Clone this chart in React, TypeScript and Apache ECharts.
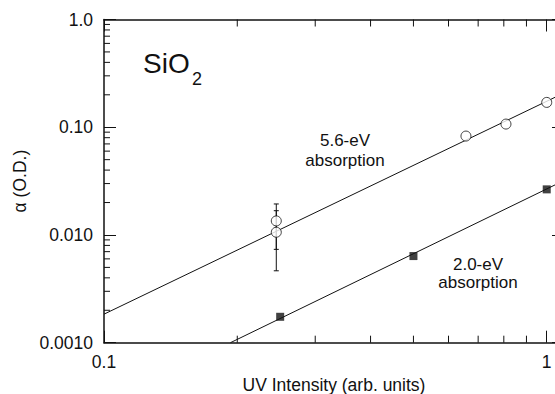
import React, { useEffect, useRef } from "react";
import * as echarts from "echarts";

// ---- data ----
const openX = [0.245, 0.245, 0.657, 0.809, 1.0];
const openY = [0.0135, 0.0106, 0.0828, 0.107, 0.17];
const errX = [0.245, 0.245];
const errLow = [0.00735, 0.00465];
const errHigh = [0.0194, 0.0168];
const filledX = [0.25, 0.5, 1.0];
const filledY = [0.00174, 0.00637, 0.0265];
const fit56X = [0.1, 1.094];
const fit56Y = [0.00184, 0.208];
const fit20X = [0.193, 1.094];
const fit20Y = [0.001, 0.032];
const xTickValues = [0.1, 1];
const xTickLabels = ["0.1", "1"];
const yTickValues = [0.001, 0.01, 0.1, 1];
const yTickLabels = ["0.0010", "0.010", "0.10", "1.0"];
const xMinorTicks = [0.2, 0.3, 0.4, 0.5, 0.6, 0.7, 0.8, 0.9];
const yMinorTicks = [
  0.002, 0.003, 0.004, 0.005, 0.006, 0.007, 0.008, 0.009,
  0.02, 0.03, 0.04, 0.05, 0.06, 0.07, 0.08, 0.09,
  0.2, 0.3, 0.4, 0.5, 0.6, 0.7, 0.8, 0.9,
];
const X_MIN = 0.1;
const X_MAX = 1.094;
const Y_MIN = 0.001;
const Y_MAX = 1;

const FONT = "'Liberation Sans', Arial, Helvetica, sans-serif";
const INK = "#111";

function labelFor(values: number[], labels: string[]) {
  return (v: number) => {
    for (let i = 0; i < values.length; i++) {
      if (Math.abs(Math.log10(v) - Math.log10(values[i])) < 1e-6) return labels[i];
    }
    return "";
  };
}

export default function App() {
  const ref = useRef<HTMLDivElement>(null);
  useEffect(() => {
    if (!ref.current) return;
    const chart = echarts.init(ref.current, undefined, { renderer: "svg" });
    const tickStyle = { color: INK, width: 1 };
    const option: any = {
      animation: false,
      backgroundColor: "#fff",
      grid: {
        left: 104,
        top: 19.5,
        right: -9,
        bottom: 51.3,
        containLabel: false,
        outerBoundsMode: "none",
      },
      xAxis: [
        {
          type: "log",
          logBase: 10,
          min: X_MIN,
          max: X_MAX,
          name: "UV Intensity (arb. units)",
          nameLocation: "middle",
          nameGap: 32,
          nameTextStyle: { fontFamily: FONT, fontSize: 17.5, color: INK },
          axisLine: { show: true, lineStyle: { color: INK, width: 1.5 } },
          axisTick: { show: true, inside: true, length: 12, lineStyle: tickStyle },
          axisLabel: {
            fontFamily: FONT,
            fontSize: 17.5,
            color: INK,
            margin: 10,
            showMaxLabel: false,
            formatter: labelFor(xTickValues, xTickLabels),
          },
          splitLine: { show: false },
        },
        {
          type: "log",
          logBase: 10,
          min: X_MIN,
          max: X_MAX,
          position: "top",
          axisLine: { show: true, lineStyle: { color: INK, width: 1.5 } },
          axisTick: { show: true, inside: true, length: 12, lineStyle: tickStyle },
          axisLabel: { show: false },
          splitLine: { show: false },
        },
      ],
      yAxis: [
        {
          type: "log",
          logBase: 10,
          min: Y_MIN,
          max: Y_MAX,
          name: "α (O.D.)",
          nameLocation: "middle",
          nameGap: 68,
          nameTextStyle: { fontFamily: FONT, fontSize: 17.5, color: INK },
          axisLine: { show: true, lineStyle: { color: INK, width: 1.5 } },
          axisTick: { show: true, inside: true, length: 12, lineStyle: tickStyle },
          axisLabel: {
            fontFamily: FONT,
            fontSize: 17.5,
            color: INK,
            margin: 11,
            formatter: labelFor(yTickValues, yTickLabels),
          },
          splitLine: { show: false },
        },
        {
          type: "log",
          logBase: 10,
          min: Y_MIN,
          max: Y_MAX,
          position: "right",
          axisLine: { show: true, lineStyle: { color: INK, width: 1.5 } },
          axisTick: { show: true, inside: true, length: 12, lineStyle: tickStyle },
          axisLabel: { show: false },
          splitLine: { show: false },
        },
      ],
      graphic: [
        {
          type: "text",
          left: 143,
          top: 49,
          style: { text: "SiO", font: `28px ${FONT}`, fill: INK },
        },
        {
          type: "text",
          left: 192,
          top: 70,
          style: { text: "2", font: `18px ${FONT}`, fill: INK },
        },
        {
          type: "text",
          x: 345,
          y: 150,
          style: {
            text: "5.6-eV\nabsorption",
            font: `17px ${FONT}`,
            fill: INK,
            align: "center",
            verticalAlign: "middle",
            lineHeight: 20,
          },
        },
        {
          type: "text",
          x: 478,
          y: 273.5,
          style: {
            text: "2.0-eV\nabsorption",
            font: `17px ${FONT}`,
            fill: INK,
            align: "center",
            verticalAlign: "middle",
            lineHeight: 18,
          },
        },
      ],
      series: [
        {
          type: "line",
          data: fit56X.map((x, i) => [x, fit56Y[i]]),
          showSymbol: false,
          symbol: "none",
          lineStyle: { color: INK, width: 1 },
          clip: true,
          z: 1,
          silent: true,
        },
        {
          type: "line",
          data: fit20X.map((x, i) => [x, fit20Y[i]]),
          showSymbol: false,
          symbol: "none",
          lineStyle: { color: INK, width: 1 },
          clip: true,
          z: 1,
          silent: true,
        },
        {
          type: "custom",
          z: 2,
          silent: true,
          data: errX.map((x, i) => [x, errLow[i], errHigh[i]]),
          encode: { x: 0, y: [1, 2] },
          renderItem: (params: any, api: any) => {
            const x = api.value(0);
            const lo = api.coord([x, api.value(1)]);
            const hi = api.coord([x, api.value(2)]);
            const hw = 2.5;
            const style = { stroke: INK, lineWidth: 1 };
            return {
              type: "group",
              children: [
                { type: "line", shape: { x1: lo[0], y1: lo[1], x2: hi[0], y2: hi[1] }, style },
                { type: "line", shape: { x1: lo[0] - hw, y1: lo[1], x2: lo[0] + hw, y2: lo[1] }, style },
                { type: "line", shape: { x1: hi[0] - hw, y1: hi[1], x2: hi[0] + hw, y2: hi[1] }, style },
              ],
            };
          },
        },
        {
          type: "custom",
          z: 2,
          silent: true,
          data: xMinorTicks.map((v) => [v, Y_MIN]),
          renderItem: (params: any, api: any) => {
            const v = api.value(0);
            const b = api.coord([v, Y_MIN]);
            const t = api.coord([v, Y_MAX]);
            const style = { stroke: INK, lineWidth: 1 };
            return {
              type: "group",
              children: [
                { type: "line", shape: { x1: b[0], y1: b[1], x2: b[0], y2: b[1] - 7 }, style },
                { type: "line", shape: { x1: t[0], y1: t[1], x2: t[0], y2: t[1] + 7 }, style },
              ],
            };
          },
        },
        {
          type: "custom",
          z: 2,
          silent: true,
          data: yMinorTicks.map((v) => [X_MIN, v]),
          renderItem: (params: any, api: any) => {
            const v = api.value(1);
            const l = api.coord([X_MIN, v]);
            const r = api.coord([X_MAX, v]);
            const style = { stroke: INK, lineWidth: 1 };
            return {
              type: "group",
              children: [
                { type: "line", shape: { x1: l[0], y1: l[1], x2: l[0] + 6, y2: l[1] }, style },
                { type: "line", shape: { x1: r[0], y1: r[1], x2: r[0] - 6, y2: r[1] }, style },
              ],
            };
          },
        },
        {
          type: "scatter",
          z: 3,
          data: openX.map((x, i) => [x, openY[i]]),
          symbol: "circle",
          symbolSize: 10,
          itemStyle: { color: "#fff", borderColor: INK, borderWidth: 1 },
        },
        {
          type: "scatter",
          z: 3,
          data: filledX.map((x, i) => [x, filledY[i]]),
          symbol: "rect",
          symbolSize: 8,
          itemStyle: { color: INK },
        },
      ],
    };
    chart.setOption(option);
    return () => chart.dispose();
  }, []);
  return (
    <div
      ref={ref}
      style={{ position: "fixed", left: 0, top: 0, width: 555, height: 394, background: "#fff" }}
    />
  );
}
